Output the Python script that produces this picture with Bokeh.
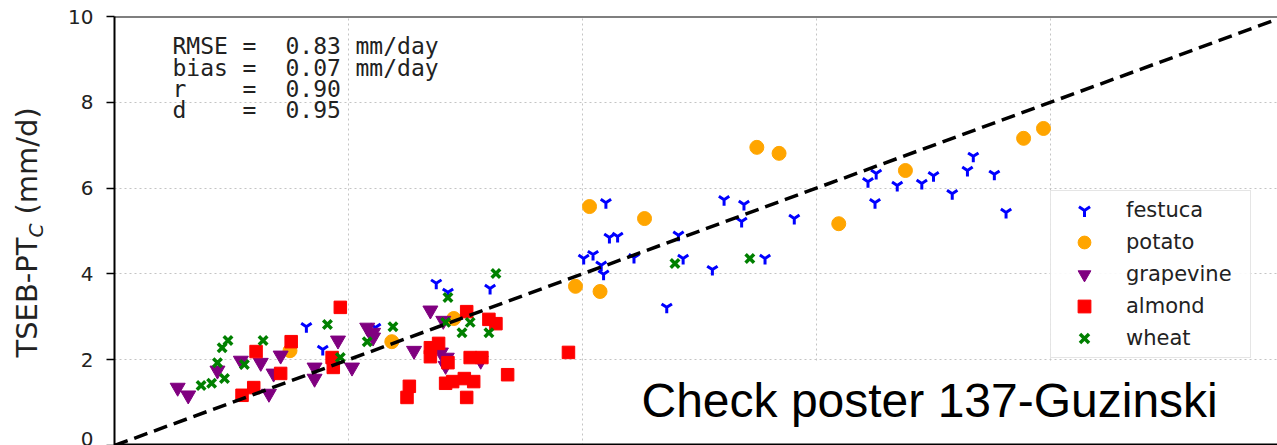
from bokeh.plotting import figure
from bokeh.layouts import row
from bokeh.models import Label, Span, Slope, BoxAnnotation, FixedTicker, Range1d
from bokeh.embed import file_html
from bokeh.resources import INLINE

# ---------------- data ----------------
festuca_x = [1.64, 1.78, 2.23, 2.75, 2.85, 3.21, 4.01, 4.09, 4.16, 4.18, 4.20, 4.23,
             4.30, 4.44, 4.72, 4.82, 4.86, 5.11, 5.21, 5.36, 5.38, 5.56, 5.81, 6.44,
             6.50, 6.51, 6.69, 6.90, 7.00, 7.16, 7.29, 7.34, 7.52, 7.62]
festuca_y = [2.77, 2.24, 2.75, 3.78, 3.57, 3.66, 4.36, 4.45, 4.20, 3.99, 5.66, 4.85,
             4.87, 4.38, 3.22, 4.90, 4.36, 4.10, 5.73, 5.22, 5.62, 4.36, 5.29, 6.15,
             5.66, 6.34, 6.06, 6.11, 6.29, 5.87, 6.41, 6.74, 6.32, 5.43]

potato_x = [1.50, 2.37, 2.90, 3.94, 4.15, 4.06, 4.53, 5.49, 5.68, 6.19, 6.76, 7.77, 7.94]
potato_y = [2.21, 2.42, 2.96, 3.71, 3.59, 5.57, 5.29, 6.95, 6.81, 5.17, 6.41, 7.16, 7.39]

grapevine_x = [0.54, 0.63, 0.88, 1.08, 1.25, 1.42, 1.36, 1.32, 1.71, 1.71, 1.91, 2.03,
               2.16, 2.21, 2.21, 2.56, 2.70, 2.81, 2.79, 2.83, 2.84, 3.13]
grapevine_y = [1.35, 1.17, 1.75, 1.98, 1.93, 2.10, 1.68, 1.21, 1.82, 1.56, 2.45, 1.82,
               2.75, 2.63, 2.52, 2.21, 3.15, 2.91, 2.17, 1.86, 2.05, 1.98]

almond_x = [1.93, 1.51, 1.21, 1.42, 1.19, 1.09, 1.86, 1.87, 2.52, 2.50, 2.70, 2.77, 2.70,
            2.85, 2.83, 2.89, 2.99, 3.07, 3.01, 3.04, 3.14, 3.01, 3.20, 3.26, 3.36, 3.88]
almond_y = [3.22, 2.42, 2.19, 1.68, 1.35, 1.17, 2.05, 1.82, 1.38, 1.12, 2.28, 2.38, 2.07,
            1.93, 1.45, 1.49, 1.56, 1.49, 1.12, 2.05, 2.05, 3.12, 2.94, 2.84, 1.65, 2.17]

wheat_x = [0.97, 0.92, 0.88, 1.11, 0.94, 0.74, 0.83, 1.27, 1.82, 1.93, 2.16, 2.38, 2.85,
           2.83, 2.97, 3.04, 3.20, 3.26, 4.79, 5.43]
wheat_y = [2.45, 2.28, 1.93, 1.89, 1.56, 1.40, 1.45, 2.45, 2.82, 2.05, 2.42, 2.77, 3.45,
           2.87, 2.63, 2.87, 2.63, 4.01, 4.24, 4.36]

y_ticks = [0, 2, 4, 6, 8, 10]
grid_ticks = [2, 4, 6, 8]
stat_names = ["RMSE", "bias", "r", "d"]
stat_values = ["0.83", "0.07", "0.90", "0.95"]
stat_units = ["mm/day", "mm/day", "", ""]
ylabel_main = "TSEB-PT"
ylabel_sub = "C"
ylabel_unit = "(mm/d)"
note_text = "Check poster 137-Guzinski"

# ---------------- left strip holding the rotated y label ----------------
lab = figure(width=60, height=445, x_range=Range1d(0, 1), y_range=Range1d(0, 1),
             output_backend="svg", toolbar_location=None,
             x_axis_location=None, y_axis_location=None,
             min_border_left=0, min_border_right=0, min_border_top=0, min_border_bottom=0)
lab.outline_line_color = None
lab.xgrid.visible = False
lab.ygrid.visible = False
ylab_font = "DejaVu Sans"
lab.add_layout(Label(x=26, y=88, x_units="screen", y_units="screen", text=ylabel_main,
                     angle=1.5707963, text_font=ylab_font, text_font_size="29px",
                     text_color="#222222", text_baseline="alphabetic", text_align="left"))
lab.add_layout(Label(x=35, y=208, x_units="screen", y_units="screen", text=ylabel_sub,
                     angle=1.5707963, text_font=ylab_font, text_font_size="20px",
                     text_font_style="italic", text_color="#222222",
                     text_baseline="alphabetic", text_align="left"))
lab.add_layout(Label(x=26, y=231, x_units="screen", y_units="screen", text=ylabel_unit,
                     angle=1.5707963, text_font=ylab_font, text_font_size="29px",
                     text_color="#222222", text_baseline="alphabetic", text_align="left"))

# ---------------- main figure ----------------
p = figure(width=1217, height=445, x_range=Range1d(0, 9.94), y_range=Range1d(0, 10),
           output_backend="svg", toolbar_location=None, x_axis_location=None,
           min_border_left=54, min_border_right=0, min_border_top=16, min_border_bottom=0)
p.outline_line_color = None
p.background_fill_color = "white"
p.border_fill_color = "white"

p.yaxis.ticker = FixedTicker(ticks=y_ticks)
p.yaxis.axis_line_width = 2
p.yaxis.axis_line_color = "black"
p.yaxis.major_tick_out = 8
p.yaxis.major_tick_in = 0
p.yaxis.minor_tick_out = 0
p.yaxis.minor_tick_in = 0
p.yaxis.major_tick_line_width = 1.5
p.yaxis.major_label_text_font = "DejaVu Sans"
p.yaxis.major_label_text_font_size = "20px"
p.yaxis.major_label_text_color = "#222222"
p.yaxis.major_label_standoff = 13

p.xgrid.ticker = FixedTicker(ticks=grid_ticks)
p.ygrid.ticker = FixedTicker(ticks=grid_ticks)
for g in (p.xgrid, p.ygrid):
    g.grid_line_color = "#c4c4c4"
    g.grid_line_dash = "2 3"
    g.grid_line_width = 1

# ---------------- scatter ----------------
p.scatter(festuca_x, festuca_y, marker="y", size=12, line_color="blue", line_width=3,
          legend_label="festuca")
p.scatter(potato_x, potato_y, marker="circle", size=14, fill_color="orange",
          line_color="orange", legend_label="potato")
p.scatter(grapevine_x, grapevine_y, marker="inverted_triangle", size=15, fill_color="purple",
          line_color="purple", legend_label="grapevine")
p.scatter(almond_x, almond_y, marker="square", size=12.5, fill_color="red", line_color="red",
          legend_label="almond")
p.scatter(wheat_x, wheat_y, marker="x", size=12, line_color="green", line_width=3.5,
          legend_label="wheat")

# 1:1 line
p.add_layout(Slope(gradient=1, y_intercept=0, line_color="black", line_width=3.5,
                   line_dash="14 7"))

# legend
lg = p.legend[0]
lg.location = (936, 87)
lg.margin = 0
lg.padding = 3
lg.spacing = 0
lg.glyph_height = 32
lg.glyph_width = 60
lg.label_height = 32
lg.label_width = 121
lg.label_standoff = 12
lg.label_text_font = "DejaVu Sans"
lg.label_text_font_size = "21px"
lg.label_text_color = "#222222"
lg.border_line_color = "#cccccc"
lg.border_line_width = 1
lg.background_fill_alpha = 0.9

# stats text (columns of monospace text)
mono = "DejaVu Sans Mono"
baselines = [400, 378, 357, 336]
for i, nm in enumerate(stat_names):
    yb = baselines[i]
    for xs, txt in ((58, nm), (128, "="), (171, stat_values[i]), (241, stat_units[i])):
        if txt:
            p.add_layout(Label(x=xs, y=yb, x_units="screen", y_units="screen", text=txt,
                               text_font=mono, text_font_size="23px", text_color="#222222",
                               text_baseline="alphabetic", text_align="left"))

# white note box with text
p.add_layout(BoxAnnotation(left=511, right=1300, top=83, bottom=-20,
                           left_units="screen", right_units="screen",
                           top_units="screen", bottom_units="screen",
                           fill_color="white", fill_alpha=1.0, line_color=None))
p.add_layout(Label(x=527, y=45, x_units="screen", y_units="screen", text=note_text,
                   text_font="Liberation Sans", text_font_size="48px", text_color="black",
                   text_baseline="alphabetic", text_align="left"))

# frame lines top & bottom
p.add_layout(Span(location=10, dimension="width", line_color="black", line_width=2))
p.add_layout(Span(location=0, dimension="width", line_color="black", line_width=4))

layout = row(lab, p, spacing=0)
open("out.html", "w").write(file_html(layout, INLINE))
